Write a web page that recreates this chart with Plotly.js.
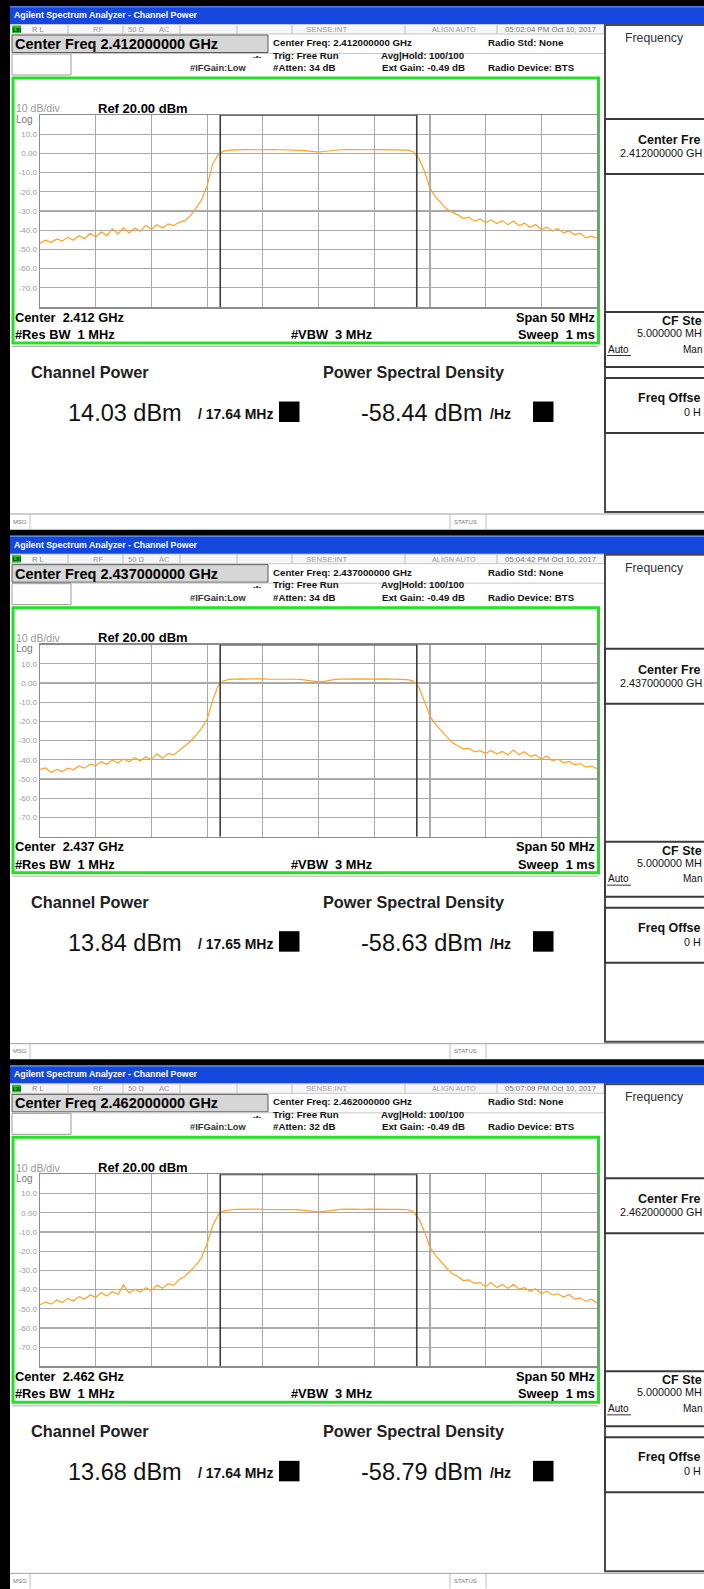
<!DOCTYPE html>
<html><head><meta charset="utf-8">
<script src="https://cdn.plot.ly/plotly-3.0.1.min.js"></script>
<style>html,body{margin:0;padding:0;background:#fff;overflow:hidden}#chart{width:704px;height:1589px}</style>
</head><body><div id="chart"></div>
<script>
// ---------- data ----------
const freqOffsetMHz = [-25,-24.5,-24,-23.5,-23,-22.5,-22,-21.5,-21,-20.5,-20,-19.5,-19,-18.5,-18,-17.5,-17,-16.5,-16,-15.5,-15,-14.5,-14,-13.5,-13,-12.5,-12,-11.5,-11,-10.5,-10,-9.5,-9,-8.5,-8,-7.5,-7,-6.5,-6,-5.5,-5,-4.5,-4,-3.5,-3,-2.5,-2,-1.5,-1,-0.5,0,0.5,1,1.5,2,2.5,3,3.5,4,4.5,5,5.5,6,6.5,7,7.5,8,8.5,9,9.5,10,10.5,11,11.5,12,12.5,13,13.5,14,14.5,15,15.5,16,16.5,17,17.5,18,18.5,19,19.5,20,20.5,21,21.5,22,22.5,23,23.5,24,24.5,25];

const powerCh1 = [-46.8,-45.2,-46.4,-44.6,-45.7,-43.6,-45.2,-42.9,-44.4,-41.6,-43.5,-40.9,-42.8,-39.2,-42.0,-38.8,-41.4,-38.9,-40.6,-37.4,-39.6,-37.2,-38.9,-36.7,-37.6,-35.9,-35.0,-32.4,-28.6,-24.2,-17.0,-5.5,-0.6,1.2,1.7,1.9,1.9,2.0,1.9,2.0,2.0,1.9,2.0,1.9,1.9,1.8,1.8,1.6,1.3,0.9,0.7,1.0,1.4,1.7,1.9,2.0,1.9,2.0,2.0,1.9,2.0,2.0,1.9,2.0,1.9,1.9,1.7,0.9,-2.4,-9.2,-18.0,-22.6,-25.8,-28.9,-30.6,-32.0,-33.9,-33.2,-35.4,-34.1,-36.0,-34.6,-36.5,-35.0,-37.1,-35.2,-37.6,-36.4,-38.5,-37.0,-39.6,-38.4,-40.5,-39.2,-41.4,-40.4,-42.4,-41.6,-44.0,-43.1,-44.2];

const powerCh6 = [-45.0,-44.2,-46.6,-45.0,-46.1,-44.3,-45.2,-43.2,-44.3,-42.2,-43.1,-40.9,-42.3,-40.0,-41.6,-39.5,-41.0,-38.8,-40.6,-38.4,-40.0,-36.9,-39.2,-36.6,-37.4,-35.0,-32.8,-30.4,-27.2,-23.6,-19.0,-9.0,-1.2,1.2,1.9,2.1,2.2,2.1,2.2,2.1,2.2,2.1,2.1,2.2,2.1,2.0,2.0,1.8,1.4,0.9,0.6,0.9,1.5,1.9,2.1,2.2,2.1,2.2,2.2,2.1,2.2,2.1,2.2,2.1,2.1,2.0,1.8,1.0,-2.0,-9.5,-17.2,-21.5,-24.6,-28.0,-31.0,-32.6,-34.3,-34.0,-35.8,-35.2,-36.7,-35.1,-37.0,-35.6,-37.4,-34.9,-37.3,-35.8,-38.2,-37.4,-39.7,-38.0,-40.5,-39.6,-41.5,-40.8,-42.6,-41.9,-43.8,-43.2,-44.6];

const powerCh11 = [-48.0,-46.4,-47.6,-45.4,-46.8,-44.6,-46.0,-43.7,-45.1,-42.8,-44.0,-41.7,-43.4,-41.0,-42.6,-37.6,-41.8,-39.8,-41.3,-39.0,-40.6,-37.7,-39.4,-37.0,-37.8,-34.8,-33.2,-30.2,-27.3,-23.4,-16.0,-6.8,-1.0,1.0,1.6,1.8,1.8,1.9,1.8,1.9,1.8,1.8,1.9,1.8,1.8,1.7,1.6,1.4,1.1,0.7,0.4,0.7,1.2,1.6,1.8,1.9,1.8,1.9,1.8,1.9,1.8,1.9,1.8,1.8,1.8,1.7,1.6,0.6,-3.0,-9.6,-18.0,-22.2,-25.6,-28.9,-31.6,-33.2,-35.3,-35.0,-36.8,-36.4,-38.4,-36.4,-39.0,-37.4,-39.4,-37.3,-39.8,-39.0,-41.0,-39.6,-42.2,-40.8,-42.8,-42.2,-43.9,-42.6,-45.0,-44.3,-46.2,-45.0,-47.0];

const centerFreqGHz = ['2.412000000','2.437000000','2.462000000'];
const centerShortGHz = ['2.412','2.437','2.462'];
const timeStamps = ['05:02:04 PM Oct 10, 2017','05:04:42 PM Oct 10, 2017','05:07:09 PM Oct 10, 2017'];
const attenDB = ['34','34','32'];
const channelPowerDBm = ['14.03','13.84','13.68'];
const integBWMHz = [17.64,17.65,17.64];
const psdDBmHz = ['-58.44','-58.63','-58.79'];
const yTickVals = [10,0,-10,-20,-30,-40,-50,-60,-70];
const yTickText = ['10.0','0.00','-10.0','-20.0','-30.0','-40.0','-50.0','-60.0','-70.0'];
const spectra = [powerCh1, powerCh6, powerCh11];

// ---------- helpers ----------
const W = 704, H = 1589, PH = 529.67;
const FONT = 'Liberation Sans, Arial, sans-serif';
const px = x => x / W, py = y => 1 - y / H;
const shapes = [], annotations = [], traces = [];
const layout = {
  width: W, height: H, margin: {l:0,r:0,t:0,b:0},
  paper_bgcolor: '#ffffff', plot_bgcolor: '#ffffff', showlegend: false,
  shapes: shapes, annotations: annotations
};
function rect(x0,y0,x1,y1,fill,line,lw,layer){
  shapes.push({type:'rect',xref:'paper',yref:'paper',x0:px(x0),x1:px(x1),y0:py(y1),y1:py(y0),
    fillcolor: fill||'rgba(0,0,0,0)', line:{color: line||'rgba(0,0,0,0)', width: lw===undefined?1:lw}, layer: layer||'below'});
}
function hline(x0,x1,y,color,lw){
  shapes.push({type:'line',xref:'paper',yref:'paper',x0:px(x0),x1:px(x1),y0:py(y),y1:py(y),line:{color:color,width:lw||1},layer:'below'});
}
function vline(x,y0,y1,color,lw){
  shapes.push({type:'line',xref:'paper',yref:'paper',x0:px(x),x1:px(x),y0:py(y0),y1:py(y1),line:{color:color,width:lw||1},layer:'below'});
}
function txt(text,x,y,size,color,anchor){
  annotations.push({text:text,x:px(x),y:py(y),xref:'paper',yref:'paper',showarrow:false,
    xanchor:anchor||'left',yanchor:'middle',font:{family:FONT,size:size,color:color||'#000'},borderpad:0});
}

// ---------- build the three panels ----------
for (let k = 0; k < 3; k++) {
  const o = k * PH;
  const n = k + 1;
  const xa = 'xaxis' + (n===1?'':n), ya = 'yaxis' + (n===1?'':n);
  const xr = 'x' + (n===1?'':n), yr = 'y' + (n===1?'':n);

  // window chrome
  rect(0, o, 704, o+6, '#000000', null, 0);
  rect(10, o+6, 704, o+24.5, '#1448dc', null, 0);
  hline(10, 704, o+6.8, '#5f86ee', 1.2);
  rect(10, o+24.5, 604, o+34, '#f6f6f6', '#c8c8c8', 1);
  [68,123,180,237,292,405,497].forEach(sx => vline(sx, o+24.5, o+34, '#c0c0c0', 1));
  rect(12, o+25.5, 21, o+33, '#22c022', null, 0);
  rect(12, o+35, 268, o+52.5, '#d6d6d6', '#5a5a5a', 1);
  rect(12, o+54, 71, o+75, '#ffffff', '#9a9a9a', 1);
  hline(71, 604, o+53.5, '#c8c8c8', 1);
  rect(13, o+78, 598.5, o+343, null, '#22e022', 3);
  hline(12, 598, o+346.5, '#b0b0b0', 1);
  // right softkey panel
  rect(605, o+25, 712, o+512, '#ffffff', '#4a4a4a', 2);
  rect(605, o+119, 712, o+174, '#ffffff', '#3a3a3a', 2);
  rect(605, o+312, 712, o+367, '#ffffff', '#3a3a3a', 2);
  rect(605, o+378, 712, o+433, '#ffffff', '#3a3a3a', 2);
  hline(607, 631, o+355.5, '#000', 0.8);
  // message bar
  hline(10, 704, o+514, '#a0a0a0', 1);
  vline(30, o+514, o+529, '#c0c0c0', 1);
  vline(450, o+514, o+529, '#c0c0c0', 1);
  vline(486, o+514, o+529, '#c0c0c0', 1);
  // left black stripe
  rect(0, o, 10, o+PH+1, '#000000', null, 0, 'above');

  // texts: title + status row
  txt('<b>Agilent Spectrum Analyzer - Channel Power</b>', 13, o+15, 8.8, '#ffffff');
  txt('<b>LXI</b>', 16.5, o+29.5, 5, '#000', 'center');
  txt('R L', 31, o+29.5, 7.5, '#8a8a8a');
  txt('RF', 92, o+29.5, 7.5, '#9a9a9a');
  txt('50 Ω', 127, o+29.5, 7.5, '#9a9a9a');
  txt('AC', 158, o+29.5, 7.5, '#9a9a9a');
  txt('SENSE:INT', 326, o+29.5, 7.8, '#a0a0a0', 'center');
  txt('ALIGN AUTO', 454, o+29.5, 7.3, '#a0a0a0', 'center');
  txt(timeStamps[k], 550, o+29.5, 7.8, '#777', 'center');

  txt('<b>Center Freq ' + centerFreqGHz[k] + ' GHz</b>', 14, o+44, 14.5, '#000');
  txt('<b>#IFGain:Low</b>', 189, o+68, 9.3, '#333');
  txt('<b>-•-</b>', 257, o+57, 8, '#333', 'center');
  txt('<b>Center Freq: ' + centerFreqGHz[k] + ' GHz</b>', 272, o+42.5, 9.7, '#111');
  txt('<b>Trig: Free Run</b>', 272, o+55, 9.7, '#111');
  txt('<b>#Atten: ' + attenDB[k] + ' dB</b>', 272, o+67.5, 9.7, '#111');
  txt('<b>Avg|Hold: 100/100</b>', 380, o+55, 9.7, '#111');
  txt('<b>Ext Gain: -0.49 dB</b>', 381, o+67.5, 9.7, '#111');
  txt('<b>Radio Std: None</b>', 487, o+42.5, 9.7, '#111');
  txt('<b>Radio Device: BTS</b>', 487, o+67.5, 9.7, '#111');

  // plot header / footer
  txt('10 dB/div', 15, o+108.5, 10.5, '#999');
  txt('Log', 15, o+119, 10, '#777');
  txt('<b>Ref 20.00 dBm</b>', 97, o+108, 13, '#000');
  txt('<b>Center  ' + centerShortGHz[k] + ' GHz</b>', 14, o+317, 12.8, '#000');
  txt('<b>#Res BW  1 MHz</b>', 14, o+334.5, 12.8, '#000');
  txt('<b>#VBW  3 MHz</b>', 290, o+334.5, 12.8, '#000');
  txt('<b>Span 50 MHz</b>', 596, o+317, 12.8, '#000', 'right');
  txt('<b>Sweep  1 ms</b>', 596, o+334.5, 12.8, '#000', 'right');

  // measurement results
  txt('<b>Channel Power</b>', 30, o+372, 16.3, '#222');
  txt('<b>Power Spectral Density</b>', 322, o+372, 16.3, '#222');
  txt(channelPowerDBm[k] + ' dBm', 67, o+413, 23.5, '#111');
  txt('<b>/ ' + integBWMHz[k].toFixed(2) + ' MHz</b>', 274, o+414, 14, '#111', 'right');
  rect(279, o+401.5, 299.5, o+422, '#000000', null, 0);
  txt(psdDBmHz[k] + ' dBm', 360, o+413, 23.5, '#111');
  txt('<b>/Hz</b>', 489, o+414, 14, '#111');
  rect(533, o+401.5, 553.5, o+422, '#000000', null, 0);

  // softkeys (text clipped by the screen edge in the original)
  txt('Frequency', 624, o+38, 12.3, '#333');
  txt('<b>Center Fre</b>', 702, o+140, 12.5, '#111', 'right');
  txt(centerFreqGHz[k] + ' GH', 703, o+153, 10.8, '#111', 'right');
  txt('<b>CF Ste</b>', 703, o+321, 12.5, '#111', 'right');
  txt('5.000000 MH', 703, o+333, 10.8, '#111', 'right');
  txt('Auto', 607, o+349, 10, '#111');
  txt('Man', 703, o+349, 10, '#111', 'right');
  txt('<b>Freq Offse</b>', 702, o+398, 12.5, '#111', 'right');
  txt('0 H', 702, o+412, 10.8, '#111', 'right');
  txt('MSG', 12, o+521.5, 6, '#777');
  txt('STATUS', 453, o+521.5, 6, '#777');

  // axes
  const yTop = o + 115, yBot = o + 307;
  layout[xa] = {domain:[px(40), px(597)], range:[-25,25], tick0:-25, dtick:5, showticklabels:false,
    showgrid:true, gridcolor:'#a9a9a9', gridwidth:1.2, zeroline:false, showline:true, linecolor:'#8c8c8c',
    linewidth:1.5, mirror:true, ticks:'', anchor:yr, fixedrange:true};
  layout[ya] = {domain:[py(yBot), py(yTop)], range:[-80,20], tickmode:'array', tickvals:yTickVals, ticktext:yTickText,
    tickfont:{family:FONT,size:8,color:'#9a9a9a'}, showgrid:true, gridcolor:'#a9a9a9', gridwidth:1.2,
    zeroline:false, showline:true, linecolor:'#8c8c8c', linewidth:1.5, mirror:true, ticks:'', anchor:xr, fixedrange:true};

  // integration bandwidth markers
  const half = integBWMHz[k] / 2;
  [-half, half].forEach(xv => shapes.push({type:'line', xref:xr, yref:yr, x0:xv, x1:xv, y0:-80, y1:20.8,
    line:{color:'#3c3c3c', width:1.6}, layer:'above'}));
  shapes.push({type:'line', xref:xr, yref:yr, x0:-half, x1:half, y0:20, y1:20, line:{color:'#3c3c3c', width:1.6}, layer:'above'});

  traces.push({x:freqOffsetMHz, y:spectra[k], xaxis:xr, yaxis:yr, type:'scatter', mode:'lines',
    line:{color:'#ffa326', width:1.2}, hoverinfo:'skip'});
}

Plotly.newPlot('chart', traces, layout, {staticPlot:true, displayModeBar:false});
</script>
</body></html>
